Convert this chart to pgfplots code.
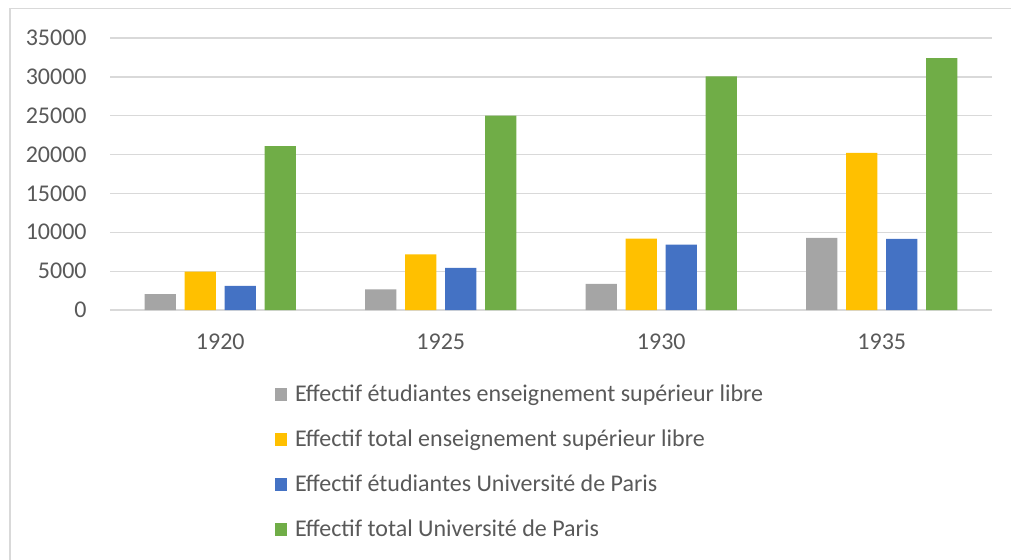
\documentclass[border=0pt]{standalone}
\usepackage{fontspec}
\setmainfont{Carlito}
\usepackage{pgfplots}
\pgfplotsset{compat=1.18}
\definecolor{cgray}{HTML}{A5A5A5}
\definecolor{cgold}{HTML}{FFC000}
\definecolor{cblue}{HTML}{4472C4}
\definecolor{cgreen}{HTML}{70AD47}
\definecolor{cgrid}{HTML}{D9D9D9}
\definecolor{ctext}{HTML}{595959}
\begin{document}
\begin{tikzpicture}
\path[use as bounding box] (0,0) rectangle (505.5pt,279.5pt);
\begin{scope}
\clip (0,0) rectangle (505.5pt,279.5pt);
\draw[cgrid, line width=0.75pt] (5pt,275.3pt) rectangle (560pt,-40pt);
\end{scope}
\begin{axis}[
  at={(55pt,124.5pt)}, anchor=south west,
  scale only axis, width=441pt, height=136pt,
  xmin=-0.5, xmax=3.5, ymin=0, ymax=35000,
  xtick={0,1,2,3}, xticklabels={1920,1925,1930,1935},
  ytick={0,5000,10000,15000,20000,25000,30000,35000},
  scaled y ticks=false,
  ymajorgrids, grid style={color=cgrid, line width=0.65pt},
  axis line style={draw=none},
  major tick length=0pt,
  tick label style={font=\fontsize{12}{14}\selectfont, text=ctext},
  /pgf/number format/assume math mode=true,
  /pgf/number format/1000 sep={},
  yticklabel style={anchor=east, inner sep=0pt, xshift=-11.5pt},
  xticklabel style={anchor=center, inner sep=0pt, yshift=-15.75pt},
  ybar, bar width=0.141,
  legend cell align=left,
  legend style={at={(0.1871,-0.271)}, anchor=north west, draw=none, fill=none,
    inner sep=0pt, outer sep=0pt, row sep=10.5pt, column sep=3.8pt,
    font=\fontsize{12}{14}\selectfont, text=ctext,
    nodes={inner sep=0pt, text height=9pt, text depth=3pt}},
  legend image code/.code={\fill[#1, draw=none] (0pt,-2.5pt) rectangle (6.2pt,3.7pt);},
]
\addplot[fill=cgray, draw=none, bar shift=-0.272] coordinates {(0,2050) (1,2660) (2,3360) (3,9270)};
\addplot[fill=cgold, draw=none, bar shift=-0.0907] coordinates {(0,4950) (1,7150) (2,9180) (3,20220)};
\addplot[fill=cblue, draw=none, bar shift=0.0907] coordinates {(0,3100) (1,5430) (2,8400) (3,9140)};
\addplot[fill=cgreen, draw=none, bar shift=0.272] coordinates {(0,21100) (1,25000) (2,30050) (3,32420)};
\legend{Effectif étudiantes enseignement supérieur libre,
        Effectif total enseignement supérieur libre,
        Effectif étudiantes Université de Paris,
        Effectif total Université de Paris}
\end{axis}
\end{tikzpicture}
\end{document}
